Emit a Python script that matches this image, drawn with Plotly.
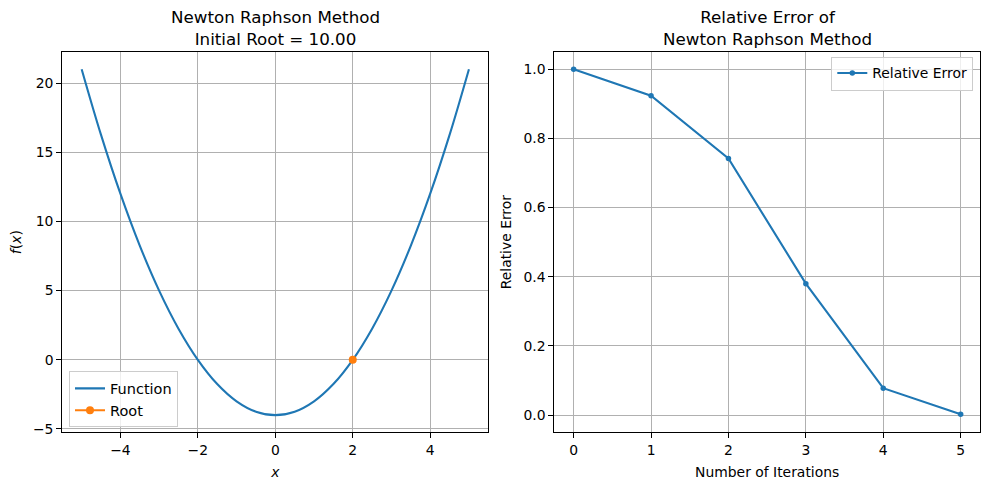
import plotly.graph_objects as go

# ---- data ----
func_x = [-5.0, -4.5, -4.0, -3.5, -3.0, -2.5, -2.0, -1.5, -1.0, -0.5, 0.0,
          0.5, 1.0, 1.5, 2.0, 2.5, 3.0, 3.5, 4.0, 4.5, 5.0]
func_y = [21.0, 16.25, 12.0, 8.25, 5.0, 2.25, 0.0, -1.75, -3.0, -3.75, -4.0,
          -3.75, -3.0, -1.75, 0.0, 2.25, 5.0, 8.25, 12.0, 16.25, 21.0]
root_x = [2.0]
root_y = [0.0]
iterations = [0, 1, 2, 3, 4, 5]
rel_error = [1.0, 0.923, 0.742, 0.380, 0.078, 0.003]

W, H = 989, 489
BLUE = "#1f77b4"
ORANGE = "#ff7f0e"
FONT = "DejaVu Sans"
GRID = "#b0b0b0"

def px_x(p):
    return p / W

def px_y(p):
    return 1 - p / H

fig = go.Figure()

fig.add_trace(go.Scatter(x=func_x, y=func_y, mode="lines", name="Function",
                         line=dict(color=BLUE, width=2.1, shape="spline", smoothing=1.0),
                         xaxis="x", yaxis="y", legend="legend"))
fig.add_trace(go.Scatter(x=root_x, y=root_y, mode="lines+markers", name="Root",
                         line=dict(color=ORANGE, width=2.1),
                         marker=dict(color=ORANGE, size=8),
                         xaxis="x", yaxis="y", legend="legend"))
fig.add_trace(go.Scatter(x=iterations, y=rel_error, mode="lines+markers",
                         name="Relative Error",
                         line=dict(color=BLUE, width=2.1),
                         marker=dict(color=BLUE, size=5.5),
                         xaxis="x2", yaxis="y2", legend="legend2"))

axis_common = dict(showline=True, linecolor="black", linewidth=1.1, mirror=True,
                   ticks="outside", ticklen=5, tickwidth=1.1, tickcolor="black",
                   showgrid=True, gridcolor=GRID, gridwidth=1.1, zeroline=False,
                   tickfont=dict(family=FONT, size=13.9, color="black"))

left_dom = [px_x(62.3), px_x(488.3)]
right_dom = [px_x(554.3), px_x(980.0)]
ydom = [px_y(436.0), px_y(52.3)]

fig.update_layout(
    width=W, height=H,
    margin=dict(l=0, r=0, t=0, b=0),
    paper_bgcolor="white", plot_bgcolor="white",
    font=dict(family=FONT, size=13.9, color="black"),
    showlegend=True,
    xaxis=dict(domain=left_dom, range=[-5.5, 5.5], tickvals=[-4, -2, 0, 2, 4],
               title=dict(text="<i>x</i>", font=dict(family=FONT, size=13.9), standoff=10),
               anchor="y", **axis_common),
    yaxis=dict(domain=ydom, range=[-5.25, 22.25], tickvals=[-5, 0, 5, 10, 15, 20],
               title=dict(text="<i>f</i>(<i>x</i>)", font=dict(family=FONT, size=13.9), standoff=8),
               anchor="x", **axis_common),
    xaxis2=dict(domain=right_dom, range=[-0.25, 5.25], tickvals=[0, 1, 2, 3, 4, 5],
                title=dict(text="Number of Iterations", font=dict(family=FONT, size=13.9), standoff=10),
                anchor="y2", **axis_common),
    yaxis2=dict(domain=ydom, range=[-0.0499, 1.0499], tickvals=[0, 0.2, 0.4, 0.6, 0.8, 1.0],
                tickformat=".1f",
                title=dict(text="Relative Error", font=dict(family=FONT, size=13.9), standoff=8),
                anchor="x2", **axis_common),
    legend=dict(x=px_x(69), y=px_y(431), xanchor="left", yanchor="bottom",
                bgcolor="rgba(255,255,255,0.8)", bordercolor="#cccccc", borderwidth=1,
                font=dict(family=FONT, size=14.5), tracegroupgap=0, itemwidth=30),
    legend2=dict(x=px_x(973.3), y=px_y(57), xanchor="right", yanchor="top",
                 bgcolor="rgba(255,255,255,0.8)", bordercolor="#cccccc", borderwidth=1,
                 font=dict(family=FONT, size=13.9), itemwidth=30),
)

fig.add_annotation(text="Newton Raphson Method<br>Initial Root = 10.00",
                   x=(left_dom[0] + left_dom[1]) / 2, y=px_y(51), xref="paper", yref="paper",
                   xanchor="center", yanchor="bottom", showarrow=False,
                   font=dict(family=FONT, size=16.7, color="black"))
fig.add_annotation(text="Relative Error of<br>Newton Raphson Method",
                   x=(right_dom[0] + right_dom[1]) / 2, y=px_y(51), xref="paper", yref="paper",
                   xanchor="center", yanchor="bottom", showarrow=False,
                   font=dict(family=FONT, size=16.7, color="black"))

fig.write_html("out.html")
